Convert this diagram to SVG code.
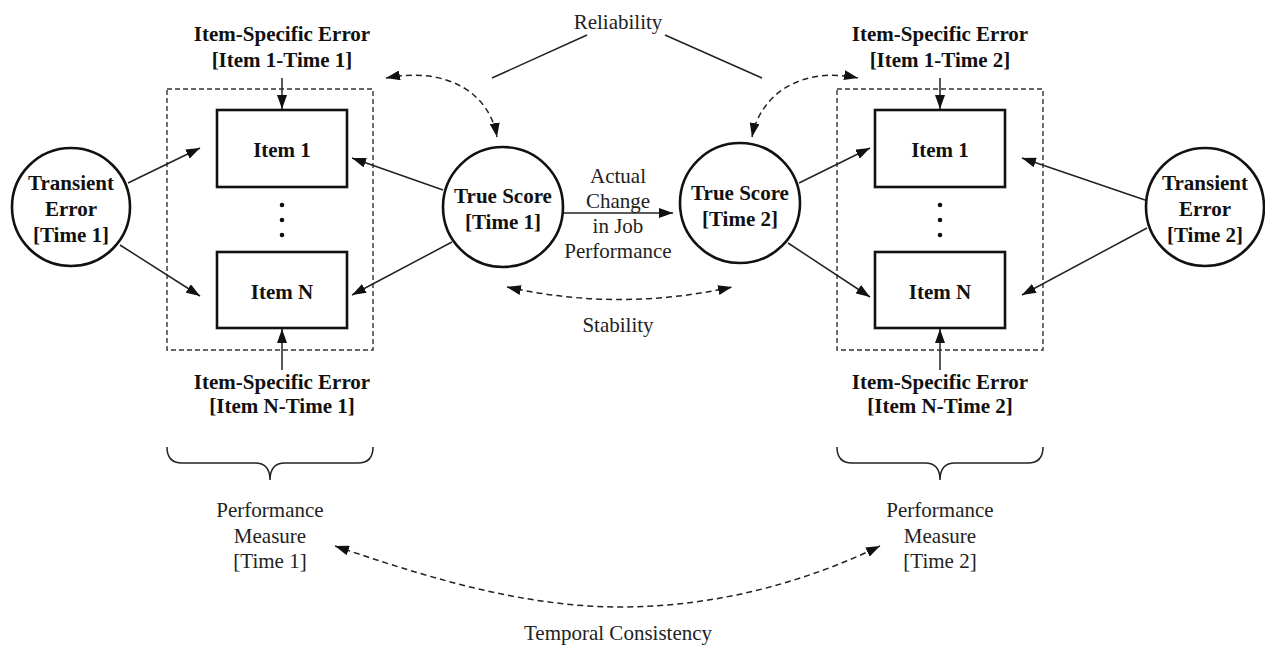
<svg xmlns="http://www.w3.org/2000/svg" width="1265" height="646" viewBox="0 0 1265 646">
<defs>
<marker id="ah" viewBox="0 0 14 10" refX="14" refY="5" markerWidth="14" markerHeight="10" markerUnits="userSpaceOnUse" orient="auto-start-reverse">
<path d="M0,0 L14,5 L0,10 z" fill="#111"/>
</marker>
<style>
.b{font-family:"Liberation Serif","Times New Roman",serif;font-weight:bold;font-size:21px;fill:#111;text-anchor:middle}
.r{font-family:"Liberation Serif","Times New Roman",serif;font-size:21px;fill:#222;text-anchor:middle}
.circ{fill:#fff;stroke:#111;stroke-width:2.6}
.item{fill:#fff;stroke:#111;stroke-width:2.6}
.dbox{fill:none;stroke:#333;stroke-width:1.4;stroke-dasharray:5 3}
.ln{fill:none;stroke:#222;stroke-width:1.5}
.arr{fill:none;stroke:#222;stroke-width:1.5;marker-end:url(#ah)}
.darr{fill:none;stroke:#222;stroke-width:1.5;stroke-dasharray:6 4;marker-start:url(#ah);marker-end:url(#ah)}
.dot{fill:#111}
</style>
</defs>
<rect width="1265" height="646" fill="#fff"/>

<g id="measure-box-t1">
<rect class="dbox" x="167" y="89" width="206" height="261"/>
</g>
<g id="measure-box-t2">
<rect class="dbox" x="837" y="89" width="206" height="261"/>
</g>

<g id="connectors">
<path class="ln" d="M587 35 L492 78"/>
<path class="ln" d="M665 35 L762 78"/>
<path class="darr" d="M386 78 C450 66, 490 95, 497 137"/>
<path class="darr" d="M752 137 C760 95, 800 66, 858 78"/>
<path class="darr" d="M507 287 Q620 312 732 287"/>
<path class="darr" d="M335 546 C420 575, 520 607, 620 607 C720 607, 810 580, 880 546"/>
<path class="arr" d="M282 78 L282 109"/>
<path class="arr" d="M282 370 L282 329"/>
<path class="arr" d="M940 78 L940 109"/>
<path class="arr" d="M940 370 L940 329"/>
<path class="arr" d="M128 183 L200 148"/>
<path class="arr" d="M120 245 L200 296"/>
<path class="arr" d="M443 190 L352 158"/>
<path class="arr" d="M452 242 L352 295"/>
<path class="arr" d="M563 213 L673 213"/>
<path class="arr" d="M799 183 L870 148"/>
<path class="arr" d="M788 243 L870 297"/>
<path class="arr" d="M1145 200 L1022 158"/>
<path class="arr" d="M1147 228 L1022 295"/>
<path class="ln" d="M167 447 Q167 463 182 463 L255 463 Q270 463 270 480 Q270 463 285 463 L358 463 Q373 463 373 447"/>
<path class="ln" d="M837 447 Q837 463 852 463 L925 463 Q940 463 940 480 Q940 463 955 463 L1028 463 Q1043 463 1043 447"/>
</g>

<g id="transient-error-t1">
<circle class="circ" cx="71" cy="207" r="59"/>
<text class="b" x="71" y="190">Transient</text>
<text class="b" x="71" y="216">Error</text>
<text class="b" x="71" y="242">[Time 1]</text>
</g>

<g id="item1-t1">
<rect class="item" x="217" y="110" width="130" height="77"/>
<text class="b" x="282" y="157">Item 1</text>
</g>
<g id="dots-t1">
<circle class="dot" cx="282" cy="205" r="2.3"/>
<circle class="dot" cx="282" cy="220" r="2.3"/>
<circle class="dot" cx="282" cy="235" r="2.3"/>
</g>
<g id="itemN-t1">
<rect class="item" x="217" y="252" width="130" height="76"/>
<text class="b" x="282" y="299">Item N</text>
</g>

<g id="ise-item1-t1">
<text class="b" x="282" y="41">Item-Specific Error</text>
<text class="b" x="282" y="67">[Item 1-Time 1]</text>
</g>
<g id="ise-itemN-t1">
<text class="b" x="282" y="389">Item-Specific Error</text>
<text class="b" x="282" y="413">[Item N-Time 1]</text>
</g>

<g id="true-score-t1">
<circle class="circ" cx="503" cy="207" r="60"/>
<text class="b" x="503" y="203">True Score</text>
<text class="b" x="503" y="229">[Time 1]</text>
</g>

<g id="true-score-t2">
<circle class="circ" cx="740" cy="203" r="60"/>
<text class="b" x="740" y="200">True Score</text>
<text class="b" x="740" y="226">[Time 2]</text>
</g>

<g id="actual-change-label">
<text class="r" x="618" y="183">Actual</text>
<text class="r" x="618" y="208">Change</text>
<text class="r" x="618" y="233">in Job</text>
<text class="r" x="618" y="258">Performance</text>
</g>

<g id="reliability-label">
<text class="r" x="618" y="29">Reliability</text>
</g>
<g id="stability-label">
<text class="r" x="618" y="332">Stability</text>
</g>

<g id="item1-t2">
<rect class="item" x="875" y="110" width="130" height="77"/>
<text class="b" x="940" y="157">Item 1</text>
</g>
<g id="dots-t2">
<circle class="dot" cx="940" cy="205" r="2.3"/>
<circle class="dot" cx="940" cy="220" r="2.3"/>
<circle class="dot" cx="940" cy="235" r="2.3"/>
</g>
<g id="itemN-t2">
<rect class="item" x="875" y="252" width="130" height="76"/>
<text class="b" x="940" y="299">Item N</text>
</g>

<g id="ise-item1-t2">
<text class="b" x="940" y="41">Item-Specific Error</text>
<text class="b" x="940" y="67">[Item 1-Time 2]</text>
</g>
<g id="ise-itemN-t2">
<text class="b" x="940" y="389">Item-Specific Error</text>
<text class="b" x="940" y="413">[Item N-Time 2]</text>
</g>

<g id="transient-error-t2">
<circle class="circ" cx="1205" cy="207" r="59"/>
<text class="b" x="1205" y="190">Transient</text>
<text class="b" x="1205" y="216">Error</text>
<text class="b" x="1205" y="242">[Time 2]</text>
</g>

<g id="performance-measure-t1">
<text class="r" x="270" y="517">Performance</text>
<text class="r" x="270" y="543">Measure</text>
<text class="r" x="270" y="568">[Time 1]</text>
</g>
<g id="performance-measure-t2">
<text class="r" x="940" y="517">Performance</text>
<text class="r" x="940" y="543">Measure</text>
<text class="r" x="940" y="568">[Time 2]</text>
</g>

<g id="temporal-consistency-label">
<text class="r" x="618" y="640">Temporal Consistency</text>
</g>
</svg>
